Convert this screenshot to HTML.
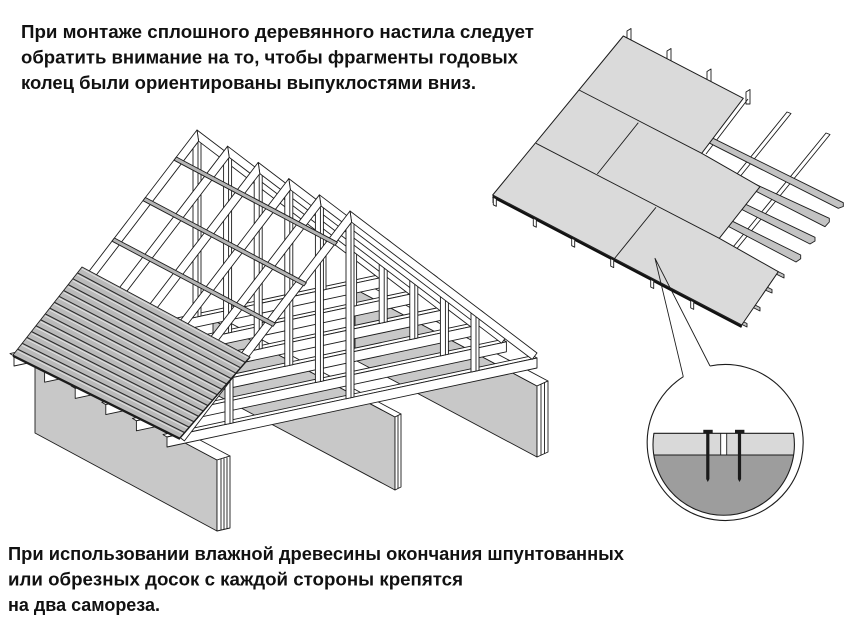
<!DOCTYPE html>
<html><head><meta charset="utf-8">
<style>
html,body{margin:0;padding:0;background:#fff;}
svg{display:block;}
.tx{font-family:"Liberation Sans","DejaVu Sans",sans-serif;font-weight:bold;font-size:18px;fill:#111;}
</style></head><body>
<svg width="864" height="630" viewBox="0 0 864 630" xmlns="http://www.w3.org/2000/svg">
<defs>
  <g id="chord">
    <polygon points="163,434.6 533,355.6 537,358 167,437" fill="#fff"/>
    <polygon points="167,437 537,358 537,368 167,447" fill="#fff"/>
  </g>
  <g id="posts">
    <polygon points="346,222 354,222 354,397.1 346,398.8" fill="#fff"/>
    <line x1="351" y1="222" x2="351" y2="397.7"/>
    <polygon points="471,312 479,312 479,370.4 471,372.1" fill="#fff"/>
    <line x1="476" y1="312" x2="476" y2="371"/>
    <polygon points="225,378 233,378 233,422.9 225,424.6" fill="#fff"/>
    <line x1="230" y1="378" x2="230" y2="423.5"/>
  </g>
  <polygon id="rr" points="350,211 537,353 532.2,359.4 351.6,222.2" fill="#fff"/>
  <polygon id="lr" points="350,211 351.6,222.2 184.4,440.9 178,436" fill="#fff"/>
  <g id="truss">
    <use href="#chord"/>
    <use href="#posts"/>
    <use href="#rr"/>
    <use href="#lr"/>
  </g>
  <clipPath id="shc"><polygon points="82,267 250,357 180,438 13,355"/></clipPath>
  <clipPath id="cc"><circle cx="723.7" cy="444.3" r="70.7"/></clipPath>
</defs>
<rect width="864" height="630" fill="#fff"/>

<!-- LEFT DRAWING -->
<g stroke="#1c1c1c" stroke-width="0.9" stroke-linejoin="round">
  <!-- right slope battens (far side) -->
  <polygon points="234.4,158.4 387.4,239.4 390.6,241.8 237.6,160.8" fill="#d0d0d0"/>
  <polygon points="281.2,193.9 434.2,274.9 437.4,277.3 284.4,196.3" fill="#d0d0d0"/>
  <polygon points="327.9,229.4 480.9,310.4 484.1,312.8 331.1,231.8" fill="#d0d0d0"/>

  <!-- walls -->
  <polygon points="35,363 217,460 217,531 35,433" fill="#c8c8c8"/>
  <polygon points="167,433.4 217,460 230,456 180,429.4" fill="#fff"/>
  <polygon points="213,320 395,417 395,490 213,393" fill="#c8c8c8"/>
  <polygon points="213,320 395,417 401,414 219,317" fill="#fff"/>
  <polygon points="355,289 537,386 537,457 355,360" fill="#c8c8c8"/>
  <polygon points="355,289 537,386 548,381 366,284" fill="#fff"/>

  <!-- trusses back to front -->
  <use href="#truss" transform="translate(-153,-81)"/>
  <use href="#truss" transform="translate(-122.4,-64.8)"/>
  <use href="#truss" transform="translate(-91.8,-48.6)"/>
  <use href="#truss" transform="translate(-61.2,-32.4)"/>
  <use href="#truss" transform="translate(-30.6,-16.2)"/>
  <use href="#truss"/>

  <!-- left slope battens -->
  <polygon points="176.4,157 337.4,242.2 335,245.4 174,160.2" fill="#b4b4b4"/>
  <polygon points="145.4,197.5 306.4,282.7 304,285.9 143,200.7" fill="#b4b4b4"/>
  <polygon points="114.4,238 275.4,323.2 273,326.4 112,241.2" fill="#b4b4b4"/>

  <!-- sheathing -->
  <polygon points="82,267 250,357 180,438 13,355" fill="#bababa"/>
  <g clip-path="url(#shc)">
    <path transform="translate(0,2)" stroke="#e4e4e4" stroke-width="0.9" fill="none"
      d="M82,267 L250,357 M77.4,272.9 L245.3,362.4 M72.8,278.7 L240.7,367.8 M68.2,284.6 L236,373.2 M63.6,290.5 L231.3,378.6 M59,296.3 L226.7,384 M54.4,302.2 L222,389.4 M49.8,308.1 L217.3,394.8 M45.2,313.9 L212.7,400.2 M40.6,319.8 L208,405.6 M36,325.7 L203.3,411 M31.4,331.5 L198.7,416.4 M26.8,337.4 L194,421.8 M22.2,343.3 L189.3,427.2 M17.6,349.1 L184.7,432.6"/>
    <path stroke="#2a2a2a" stroke-width="1.1" fill="none"
      d="M77.4,272.9 L245.3,362.4 M72.8,278.7 L240.7,367.8 M68.2,284.6 L236,373.2 M63.6,290.5 L231.3,378.6 M59,296.3 L226.7,384 M54.4,302.2 L222,389.4 M49.8,308.1 L217.3,394.8 M45.2,313.9 L212.7,400.2 M40.6,319.8 L208,405.6 M36,325.7 L203.3,411 M31.4,331.5 L198.7,416.4 M26.8,337.4 L194,421.8 M22.2,343.3 L189.3,427.2 M17.6,349.1 L184.7,432.6"/>
  </g>
  <line x1="13" y1="356" x2="180" y2="439" stroke-width="2"/>
  <line x1="180" y1="438" x2="250" y2="357" stroke-width="1.4"/>

  <!-- wall end faces -->
  <polygon points="217,460 230,456 230,528 217,531" fill="#fff"/>
  <line x1="221" y1="459" x2="221" y2="530.3"/>
  <line x1="224" y1="458.3" x2="224" y2="529.6"/>
  <line x1="227" y1="457.5" x2="227" y2="528.8"/>
  <polygon points="395,417 401,414 401,487 395,490" fill="#fff"/>
  <line x1="398" y1="415.5" x2="398" y2="488.5"/>
  <polygon points="537,386 548,381 548,452 537,457" fill="#fff"/>
  <line x1="541" y1="384.2" x2="541" y2="455.2"/>
  <line x1="544.5" y1="382.6" x2="544.5" y2="453.6"/>
</g>

<!-- RIGHT DRAWING -->
<g stroke="#1c1c1c" stroke-width="0.9" stroke-linejoin="round">
  <!-- joists (thin) -->
  <polygon points="787,112 791,113.5 722,199 718,197.5" fill="#fff"/>
  <polygon points="826,133 830,134.5 722,267 718,265.5" fill="#fff"/>
  <!-- stubs above top edge -->
  <polygon points="627,31 631,28.5 631,42 627,42" fill="#fff"/>
  <polygon points="667,51 671,48.5 671,62 667,62" fill="#fff"/>
  <polygon points="707,71.5 711,69 711,83 707,83" fill="#fff"/>
  <polygon points="746,92 750,89.5 750,104 746,104" fill="#fff"/>
  <line x1="748" y1="99" x2="706" y2="154"/>
  <!-- planks -->
  <polygon points="703,133.3 843.3,202.7 843.3,206.5 838.3,208.3 700,138.3" fill="#c3c3c3"/>
  <polygon points="750,181.7 829.3,218.3 829.3,222 825,226.7 747,186.7" fill="#c3c3c3"/>
  <polygon points="736.7,200 815,237.3 815,241 810,244 733,205" fill="#c3c3c3"/>
  <polygon points="723.3,216.7 800.7,255 800.7,258.7 796,262 720,222" fill="#c3c3c3"/>
  <polygon points="777,271 784,274.5 784,278 777,274.5" fill="#c3c3c3"/>
  <polygon points="765,286 772,289.5 772,293 765,290" fill="#c3c3c3"/>
  <polygon points="753,304 760,307.5 760,311 753,307.5" fill="#c3c3c3"/>
  <polygon points="740,320 747,323.5 747,327 740,323.5" fill="#c3c3c3"/>
  <!-- deck -->
  <polygon points="623.3,36 743.3,98.3 701.7,153.3 760,186.7 719.3,238.3 778.3,271.7 741.7,325 492.7,195" fill="#dadada" stroke-width="1"/>
  <line x1="579" y1="90" x2="701.7" y2="153.3"/>
  <line x1="536" y1="143.3" x2="719.3" y2="238.3"/>
  <line x1="638.3" y1="122.7" x2="597.3" y2="174"/>
  <line x1="656" y1="207.3" x2="613.3" y2="260"/>
  <line x1="492.7" y1="196.8" x2="741.7" y2="326.8" stroke="#111" stroke-width="2.4"/>
  <line x1="493" y1="195" x2="493" y2="203"/>
  <!-- stubs below -->
  <polygon points="493.3,197.3 496.3,198.8 496.3,206.3 493.3,204.8" fill="#fff"/>
  <polygon points="533.3,218.2 536.3,219.7 536.3,227.2 533.3,225.7" fill="#fff"/>
  <polygon points="571.7,238.2 574.7,239.7 574.7,247.2 571.7,245.7" fill="#fff"/>
  <polygon points="610.7,258.6 613.7,260.1 613.7,267.6 610.7,266.1" fill="#fff"/>
  <polygon points="650.7,279.5 653.7,281 653.7,288.5 650.7,287" fill="#fff"/>
  <polygon points="690.7,300.4 693.7,301.9 693.7,309.4 690.7,307.9" fill="#fff"/>

  <!-- callout -->
  <polyline points="683.3,376.7 655,258.3 710,366" fill="none"/>
  <path d="M683.3,376.7 A78,78 0 1 0 710,366" fill="none" stroke-width="1.1"/>
  <g clip-path="url(#cc)" stroke="none">
    <rect x="640" y="433.3" width="170" height="21.7" fill="#d9d9d9"/>
    <rect x="720.7" y="433.3" width="6" height="21.7" fill="#fff"/>
    <rect x="640" y="455" width="170" height="70" fill="#9d9d9d"/>
  </g>
  <path d="M653.9,433.3 A70.7,70.7 0 1 0 793.5,433.3 Z" fill="none" stroke-width="1.1"/>
  <line x1="653.8" y1="455" x2="793.6" y2="455"/>
  <line x1="720.7" y1="433.3" x2="720.7" y2="455"/>
  <line x1="726.7" y1="433.3" x2="726.7" y2="455"/>
  <g fill="#1a1a1a" stroke="none">
    <rect x="703.3" y="429.8" width="9.4" height="3.6"/>
    <path d="M706.2,433 h3.2 v46 l-1.6,3 l-1.6,-3 z"/>
    <rect x="735" y="429.8" width="9.4" height="3.6"/>
    <path d="M737.9,433 h3.2 v46 l-1.6,3 l-1.6,-3 z"/>
  </g>
</g>

<!-- TEXT -->
<text class="tx" x="21" y="38" textLength="513" lengthAdjust="spacingAndGlyphs">При монтаже сплошного деревянного настила следует</text>
<text class="tx" x="21" y="63.5" textLength="497" lengthAdjust="spacingAndGlyphs">обратить внимание на то, чтобы фрагменты годовых</text>
<text class="tx" x="21" y="89" textLength="455" lengthAdjust="spacingAndGlyphs">колец были ориентированы выпуклостями вниз.</text>

<text class="tx" x="8" y="560" textLength="616" lengthAdjust="spacingAndGlyphs">При использовании влажной древесины окончания шпунтованных</text>
<text class="tx" x="8" y="585.5" textLength="455" lengthAdjust="spacingAndGlyphs">или обрезных досок с каждой стороны крепятся</text>
<text class="tx" x="8" y="611" textLength="152" lengthAdjust="spacingAndGlyphs">на два самореза.</text>
</svg>
</body></html>
